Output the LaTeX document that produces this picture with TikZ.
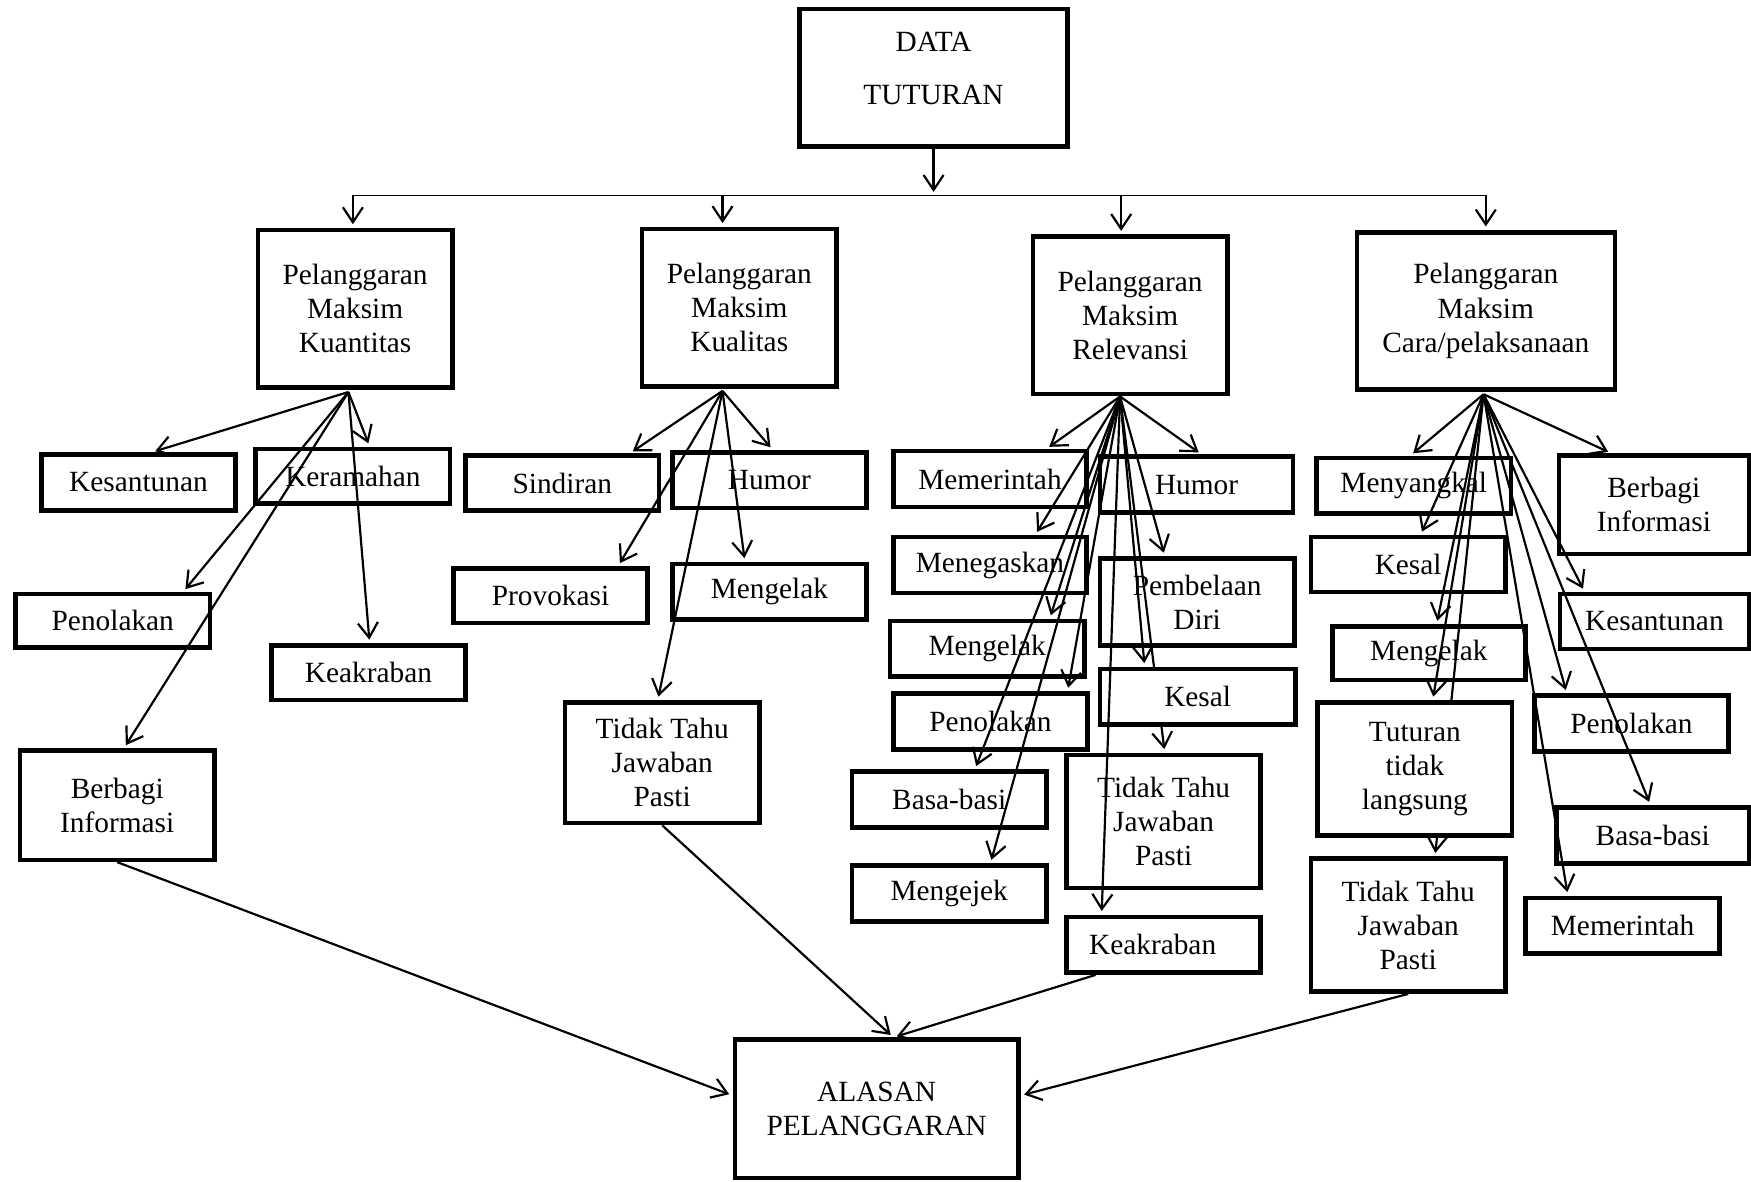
\documentclass[tikz,border=0pt]{standalone}
\usepackage{fontspec}
\setmainfont{Liberation Serif}
\usetikzlibrary{arrows.meta,calc}

\begin{document}
\begin{tikzpicture}[
  x=0.011167cm, y=-0.011167cm,
  box/.style={
    rectangle, draw, line width=1.3pt, fill=white,
    align=center, inner sep=0pt, font=\fontsize{8.35}{9.7}\selectfont
  },
  sz/.style 2 args={minimum width=#1*0.011167cm, minimum height=#2*0.011167cm},
  arr/.style={-{Straight Barb[length=1.5mm,width=2mm]}, line width=0.62pt, shorten >=1pt},
  barline/.style={line width=0.45pt}
]
\useasboundingbox (0,0) rectangle (1568,1058);

% --- Top box and the four maxims
\node[box, sz={240}{123}, text depth=5.4pt] (data) at (836,69.5) {DATA\\[5.5pt]TUTURAN};
\node[box, sz={174}{141}] (kuan) at (318,276.5)  {Pelanggaran\\Maksim\\Kuantitas};
\node[box, sz={174}{141}] (kual) at (662,275.5)  {Pelanggaran\\Maksim\\Kualitas};
\node[box, sz={174}{141}] (rele) at (1012,282.5) {Pelanggaran\\Maksim\\Relevansi};
\node[box, sz={231}{141}] (cara) at (1330.5,278.5) {Pelanggaran\\Maksim\\Cara/pelaksanaan};

% --- Kuantitas
\node[box, sz={174}{50}] (santA) at (124,432)   {Kesantunan};
\node[box, sz={174}{49}] (ramA)  at (316,426.5) {Keramahan};
\node[box, sz={174}{48}] (tolA)  at (101,556)   {Penolakan};
\node[box, sz={174}{49}] (akrA)  at (330,602.5) {Keakraban};
\node[box, sz={174}{98}] (bagA)  at (105,721)   {Berbagi\\Informasi};

% --- Kualitas
\node[box, sz={173}{49}]  (sinB) at (503.5,432.5) {Sindiran};
\node[box, sz={174}{50}]  (humB) at (689,430)     {Humor};
\node[box, sz={174}{49}]  (proB) at (493,533.5)   {Provokasi};
\node[box, sz={174}{50}]  (elkB) at (689,530)     {Mengelak};
\node[box, sz={174}{108}] (tidB) at (593,683)     {Tidak Tahu\\Jawaban\\Pasti};

% --- Relevansi
\node[box, sz={173}{50}]  (perC) at (886.5,429)  {Memerintah};
\node[box, sz={173}{50}]  (humC) at (1071.5,434) {Humor};
\node[box, sz={173}{50}]  (tegC) at (886.5,506)  {Menegaskan};
\node[box, sz={174}{78}]  (belC) at (1072,539)   {Pembelaan\\Diri};
\node[box, sz={174}{50}]  (elkC) at (884,581)    {Mengelak};
\node[box, sz={174}{50}]  (tolC) at (887,646)    {Penolakan};
\node[box, sz={174}{50}]  (basC) at (850,716)    {Basa-basi};
\node[box, sz={174}{119}] (tidC) at (1042,735.5) {Tidak Tahu\\Jawaban\\Pasti};
\node[box, sz={174}{50}]  (ejkC) at (850,800)    {Mengejek};
\node[box, sz={174}{50}]  (akrC) at (1042,846)   {Keakraban\hspace{2.2mm}};

% --- Cara/pelaksanaan
\node[box, sz={174}{50}]  (sangD) at (1266,435)    {Menyangkal};
\node[box, sz={170}{88}]  (bagD)  at (1481,452)    {Berbagi\\Informasi};
\node[box, sz={174}{49}]  (kesD)  at (1261,505.5)  {Kesal};
\node[box, sz={169}{49}]  (santD) at (1481.5,556.5) {Kesantunan};
\node[box, sz={173}{48}]  (elkD)  at (1279.5,585)  {Mengelak};
\node[box, sz={174}{50}]  (tolD)  at (1461,648)    {Penolakan};
\node[box, sz={172}{50}]  (basD)  at (1480,748)    {Basa-basi};
\node[box, sz={174}{50}]  (perD)  at (1453,829)    {Memerintah};
\node[box, sz={174}{119}] (tidD)  at (1261,828.5)  {Tidak Tahu\\Jawaban\\Pasti};

% --- Bottom box
\node[box, sz={254}{124}] (alas) at (785,993) {ALASAN\\PELANGGARAN};

% --- Branch points
\coordinate (bar)   at ($(data.south)+(0,42)$);
\coordinate (kuanT) at ($(kuan.north)+(-2,0)$);
\coordinate (kualT) at ($(kual.north)+(-15,0)$);
\coordinate (releT) at ($(rele.north)+(-8,0)$);
\coordinate (caraT) at ($(cara.north)+(0,0)$);
\coordinate (kuanS) at ($(kuan.south)+(-6,2)$);
\coordinate (kualS) at ($(kual.south)+(-15,2)$);
\coordinate (releS) at ($(rele.south)+(-9,0)$);
\coordinate (caraS) at ($(cara.south)+(-2,2)$);

% --- Lines that run behind a box
\draw[arr] (releS) -- ($(tidC.north)+(1,0)$);
\draw[arr] (caraS) -- ($(tidD.north)+(24,0)$);
\node[box, sz={175}{50}]  (kesC) at (1072.5,624) {Kesal};
\node[box, sz={174}{119}] (tutD) at (1267,688.5) {Tuturan\\tidak\\langsung};

% --- Top distribution
\draw[barline] (bar -| kuanT) -- (bar -| caraT);
\draw[arr] (data.south) -- (bar);
\draw[arr] (bar -| kuanT) -- (kuanT);
\draw[arr] (bar -| kualT) -- (kualT);
\draw[arr] (bar -| releT) -- (releT);
\draw[arr] (bar -| caraT) -- (caraT);

% --- Kuantitas arrows
\draw[arr] (kuanS) -- ($(santA.north)+(12,0)$);
\draw[arr] (kuanS) -- ($(ramA.north)+(15,0)$);
\draw[arr] (kuanS) -- ($(tolA.north)+(63,0)$);
\draw[arr] (kuanS) -- ($(akrA.north)+(1,0)$);
\draw[arr] (kuanS) -- ($(bagA.north)+(6,0)$);

% --- Kualitas arrows
\draw[arr] (kualS) -- ($(sinB.north)+(60.5,0)$);
\draw[arr] (kualS) -- ($(humB.north)+(3,0)$);
\draw[arr] (kualS) -- ($(proB.north)+(60.5,0)$);
\draw[arr] (kualS) -- ($(elkB.north)+(-22,0)$);
\draw[arr] (kualS) -- ($(tidB.north)+(-4,0)$);

% --- Relevansi arrows
\draw[arr] (releS) -- ($(perC.north)+(50.5,0)$);
\draw[arr] (releS) -- ($(humC.north)+(4.5,0)$);
\draw[arr] (releS) -- ($(tegC.north)+(40.5,0)$);
\draw[arr] (releS) -- ($(belC.north)+(-29,0)$);
\draw[arr] (releS) -- ($(elkC.north)+(56,0)$);
\draw[arr] (releS) -- ($(tolC.north)+(69,0)$);
\draw[arr] (releS) -- ($(kesC.north)+(-47.5,0)$);
\draw[arr] (releS) -- ($(basC.north)+(23,0)$);
\draw[arr] (releS) -- ($(ejkC.north)+(37,0)$);
\draw[arr] (releS) -- ($(akrC.north)+(-55.5,0)$);

% --- Cara/pelaksanaan arrows
\draw[arr] (caraS) -- ($(sangD.north)+(-3,0)$);
\draw[arr] (caraS) -- ($(bagD.north)+(-38,0)$);
\draw[arr] (caraS) -- ($(kesD.north)+(11,0)$);
\draw[arr] (caraS) -- ($(santD.north)+(-62.5,0)$);
\draw[arr] (caraS) -- ($(elkD.north)+(7,0)$);
\draw[arr] (caraS) -- ($(tutD.north)+(16,0)$);
\draw[arr] (caraS) -- ($(tolD.north)+(-58,0)$);
\draw[arr] (caraS) -- ($(basD.north)+(-2,0)$);
\draw[arr] (caraS) -- ($(perD.north)+(-49,0)$);

% --- Into the bottom box
\draw[arr] (bagA.south) -- ($(alas.west)+(0,-12)$);
\draw[arr] (tidB.south) -- ($(alas.north)+(15,0)$);
\draw[arr] ($(akrC.south)+(-61,0)$) -- ($(alas.north)+(15,0)$);
\draw[arr] (tidD.south) -- ($(alas.east)+(0,-12)$);

\end{tikzpicture}
\end{document}
